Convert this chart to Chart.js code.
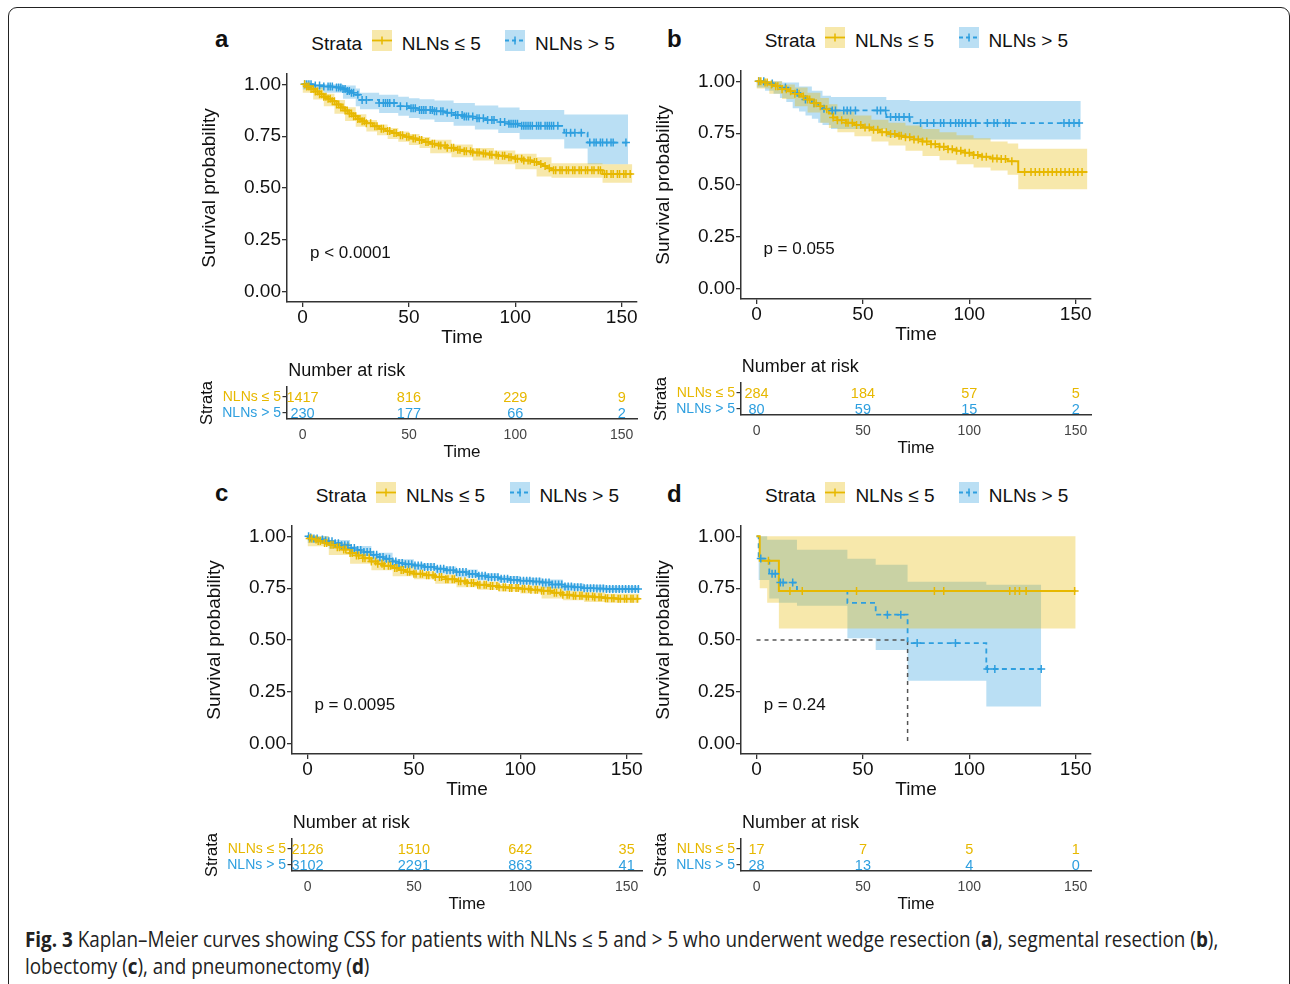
<!DOCTYPE html>
<html>
<head>
<meta charset="utf-8">
<script src="https://cdn.jsdelivr.net/npm/chart.js@4.4.1/dist/chart.umd.min.js"></script>
<style>
html, body { margin: 0; padding: 0; background: #fff; }
body { width: 1290px; height: 984px; position: relative; overflow: hidden; font-family: "Liberation Sans", Arial, sans-serif; color: #111; }
.frame { position: absolute; left: 8px; top: 7px; width: 1282px; height: 1010px; border: 1.5px solid #222; border-radius: 9px; box-sizing: border-box; }
.box { position: absolute; }
.txt { position: absolute; white-space: nowrap; line-height: 1; }
.key { position: absolute; display: block; }
.caption { position: absolute; left: 25px; top: 926px; font-family: "Open Sans", sans-serif; font-size: 21px; line-height: 27px; color: #222; white-space: nowrap; transform: scaleX(0.898); transform-origin: 0 0; }
</style>
</head>
<body>
<div class="frame"></div>
<div id="fig"></div>
<div class="caption"><b>Fig. 3</b> Kaplan–Meier curves showing CSS for patients with NLNs ≤ 5 and &gt; 5 who underwent wedge resection (<b>a</b>), segmental resection (<b>b</b>),<br>lobectomy (<b>c</b>), and pneumonectomy (<b>d</b>)</div>
<script>
// ================= DATA =================
const strata = ["NLNs ≤ 5", "NLNs > 5"];
const xTicks = [0, 50, 100, 150];
const yTicks = [0, 0.25, 0.5, 0.75, 1];
const riskTimes = [0, 50, 100, 150];

// a: wedge resection  -- [time, survival]
const aLowSurv = [[0,1],[2,0.99],[4,0.978],[6,0.965],[8,0.952],[10,0.94],[12,0.93],[14,0.918],[16,0.903],[18,0.888],[20,0.874],[22,0.86],[24,0.846],[26,0.833],[28,0.822],[30,0.812],[33,0.798],[36,0.786],[39,0.775],[42,0.765],[45,0.755],[48,0.747],[51,0.739],[54,0.731],[57,0.722],[60,0.714],[64,0.705],[68,0.694],[72,0.685],[76,0.677],[80,0.671],[84,0.666],[88,0.661],[92,0.655],[96,0.648],[100,0.641],[104,0.633],[108,0.625],[111,0.616],[113,0.606],[115,0.595],[117,0.586],[141,0.567],[155,0.567]];
const aLowUp = [[0,1],[5,0.985],[10,0.955],[15,0.925],[20,0.89],[25,0.856],[30,0.828],[35,0.806],[40,0.789],[45,0.772],[50,0.76],[55,0.746],[60,0.733],[70,0.71],[80,0.693],[90,0.681],[100,0.665],[110,0.648],[117,0.62],[141,0.615],[155,0.615]];
const aLowLo = [[0,0.96],[5,0.927],[10,0.895],[15,0.858],[20,0.823],[25,0.795],[30,0.772],[35,0.754],[40,0.736],[45,0.723],[50,0.708],[55,0.693],[60,0.668],[70,0.648],[80,0.633],[90,0.614],[100,0.59],[110,0.555],[117,0.55],[141,0.525],[155,0.525]];
const aLowCens = [1,2,3,4,5,6,7,8,9,10,11,12,13,14,15,16,17,18,19,20,21,22,23,24,25,26,27,28,29,30,32,34,35,37,38,40,41,43,44,46,47,49,50,52,53,55,56,58,59,61,62,64,65,67,68,70,71,73,74,76,77,79,80,82,83,85,86,88,89,91,92,94,95,97,98,100,101,103,104,106,107,109,110,112,114,116,118,119,121,122,124,125,127,128,130,131,133,134,136,137,139,140,142,143,145,146,148,149,151,152,154];
const aHighSurv = [[0,1],[5,0.995],[10,0.99],[15,0.985],[19,0.978],[21,0.968],[23,0.96],[25,0.95],[27,0.925],[36,0.91],[45,0.895],[50,0.885],[55,0.876],[62,0.87],[67,0.863],[71,0.852],[76,0.845],[81,0.836],[86,0.828],[92,0.818],[97,0.81],[102,0.8],[123,0.767],[134,0.719],[153,0.719]];
const aHighUp = [[0,1],[19,0.995],[25,0.98],[27,0.96],[36,0.95],[45,0.94],[50,0.933],[55,0.928],[62,0.922],[71,0.91],[81,0.898],[92,0.888],[102,0.876],[123,0.855],[153,0.855]];
const aHighLo = [[0,0.975],[10,0.96],[19,0.93],[25,0.895],[27,0.88],[36,0.862],[45,0.848],[50,0.838],[55,0.83],[62,0.818],[71,0.8],[81,0.782],[92,0.765],[102,0.735],[123,0.69],[134,0.615],[153,0.615]];
const aHighCens = [1,2,3,4,6,8,10,12,13,14,16,17,18,19,20,21,22,23,24,26,28,30,36,38,39,40,41,43,46,49,51,52,53,55,56,57,58,60,61,62,63,65,66,68,70,72,73,75,76,77,78,80,82,83,85,87,89,90,93,95,97,98,99,100,101,103,104,105,106,107,108,110,111,112,114,115,116,117,118,120,124,126,128,131,135,137,138,140,141,143,145,146,152];
const aLowRisk = [1417, 816, 229, 9];
const aHighRisk = [230, 177, 66, 2];

// b: segmental resection
const bLowSurv = [[0,1],[3,0.995],[6,0.985],[9,0.976],[12,0.962],[15,0.952],[18,0.94],[21,0.927],[24,0.912],[27,0.895],[30,0.88],[32,0.866],[34,0.845],[36,0.826],[38,0.812],[42,0.8],[46,0.79],[50,0.778],[54,0.767],[58,0.755],[62,0.746],[66,0.738],[70,0.73],[74,0.72],[78,0.71],[82,0.697],[86,0.684],[90,0.672],[94,0.665],[98,0.655],[102,0.645],[106,0.636],[110,0.628],[114,0.625],[118,0.615],[123,0.563],[155.5,0.563]];
const bLowUp = [[0,1],[6,1],[12,0.985],[18,0.97],[24,0.945],[30,0.92],[34,0.89],[38,0.855],[46,0.835],[54,0.815],[62,0.8],[70,0.787],[78,0.77],[86,0.755],[94,0.74],[102,0.725],[110,0.71],[118,0.7],[123,0.675],[155.5,0.675]];
const bLowLo = [[0,0.965],[6,0.94],[12,0.915],[18,0.88],[24,0.85],[30,0.8],[34,0.775],[38,0.755],[46,0.735],[54,0.71],[62,0.69],[70,0.665],[78,0.64],[86,0.62],[94,0.6],[102,0.585],[110,0.57],[118,0.55],[123,0.48],[155.5,0.48]];
const bLowCens = [1,2,4,5,7,9,10,12,14,16,18,20,22,24,25,27,28,30,33,36,38,40,42,43,45,47,49,51,53,55,57,59,61,63,65,67,68,70,72,74,76,78,80,82,84,86,88,90,92,94,96,98,100,102,104,106,108,111,113,115,117,120,126,129,131,133,135,137,139,141,143,145,147,149,151,153];
const bHighSurv = [[0,1],[4,0.99],[8,0.98],[11,0.97],[14,0.96],[17,0.945],[20,0.928],[23,0.912],[26,0.895],[29,0.88],[31,0.868],[35,0.86],[61,0.828],[72,0.799],[152.4,0.799]];
const bHighUp = [[0,1],[12,0.995],[20,0.975],[26,0.955],[31,0.93],[35,0.925],[61,0.91],[72,0.905],[152.4,0.905]];
const bHighLo = [[0,0.97],[4,0.955],[8,0.94],[11,0.92],[14,0.9],[17,0.87],[20,0.855],[23,0.835],[26,0.82],[29,0.8],[31,0.79],[35,0.77],[61,0.73],[72,0.72],[152.4,0.72]];
const bHighCens = [1.1,3.4,7.4,13.6,19.1,23,27,31.7,35.6,37.1,41,42.6,44.2,46.5,56.7,58.3,60.7,63,65.4,67,69.3,71.8,77.1,80.2,83.3,86.5,88,91.2,93.6,95.1,96.7,98.3,100.6,103,108.5,111.6,113.2,117.1,118.7,144.5,146.9,149.2,151.6];
const bLowRisk = [284, 184, 57, 5];
const bHighRisk = [80, 59, 15, 2];

// c: lobectomy
const cLowSurv = [[0,1],[1,0.99],[3,0.985],[5,0.978],[8,0.968],[10,0.96],[13,0.948],[16,0.937],[20,0.92],[23,0.908],[26,0.895],[30,0.879],[33,0.868],[36,0.858],[40,0.847],[43,0.838],[46,0.829],[50,0.82],[55,0.812],[60,0.804],[65,0.793],[70,0.783],[75,0.775],[80,0.767],[85,0.761],[90,0.755],[95,0.751],[100,0.747],[105,0.743],[110,0.738],[115,0.728],[120,0.718],[125,0.714],[130,0.71],[135,0.706],[140,0.702],[145,0.699],[156,0.699]];
const cLowUp = [[0,1],[10,0.968],[20,0.93],[30,0.89],[40,0.858],[50,0.832],[60,0.817],[70,0.797],[80,0.782],[90,0.77],[100,0.763],[110,0.755],[120,0.737],[130,0.73],[140,0.723],[156,0.723]];
const cLowLo = [[0,0.952],[10,0.91],[20,0.868],[30,0.836],[40,0.808],[50,0.793],[60,0.771],[70,0.755],[80,0.743],[90,0.734],[100,0.724],[110,0.7],[120,0.692],[130,0.683],[140,0.68],[156,0.68]];
const cLowCens = [1,2,4,5,6,8,9,11,12,14,15,17,18,20,21,23,24,26,27,29,30,32,33,35,36,38,39,41,42,44,45,47,48,50,51,53,54,56,57,59,60,62,63,65,66,68,69,71,72,74,75,77,78,80,81,83,84,86,87,89,90,92,93,95,96,98,99,101,102,104,105,107,108,110,111,113,114,116,117,119,120,122,123,125,126,128,129,131,132,134,135,137,138,140,141,143,144,146,147,149,150,152,153,155];
const cHighSurv = [[0,1],[1,0.995],[3,0.99],[5,0.985],[8,0.98],[10,0.976],[13,0.967],[16,0.957],[20,0.944],[23,0.934],[26,0.924],[30,0.911],[33,0.901],[36,0.892],[40,0.879],[43,0.872],[46,0.865],[50,0.86],[55,0.852],[60,0.844],[65,0.836],[70,0.828],[75,0.819],[80,0.81],[85,0.803],[90,0.796],[95,0.79],[100,0.786],[105,0.782],[110,0.778],[115,0.768],[120,0.758],[125,0.754],[130,0.75],[135,0.748],[140,0.746],[156,0.746]];
const cHighUp = [[0,1],[10,0.983],[20,0.953],[30,0.921],[40,0.889],[50,0.87],[60,0.855],[70,0.84],[80,0.822],[90,0.809],[100,0.8],[110,0.792],[120,0.773],[130,0.766],[140,0.762],[156,0.762]];
const cHighLo = [[0,0.968],[10,0.94],[20,0.905],[30,0.875],[40,0.85],[50,0.836],[60,0.82],[70,0.802],[80,0.787],[90,0.776],[100,0.768],[110,0.75],[120,0.738],[130,0.734],[140,0.73],[156,0.73]];
const cHighCens = [0.5,1.5,3,4.5,7,8.5,10,11.5,13,14.5,16,17.5,19,20.5,22,23.5,25,26.5,28,29.5,31,32.5,34,35.5,37,38.5,40,41.5,43,44.5,46,47.5,49,50.5,52,53.5,55,56.5,58,59.5,61,62.5,64,65.5,67,68.5,70,71.5,73,74.5,76,77.5,79,80.5,82,83.5,85,86.5,88,89.5,91,92.5,94,95.5,97,98.5,100,101.5,103,104.5,106,107.5,109,110.5,112,113.5,115,116.5,118,119.5,121,122.5,124,125.5,127,128.5,130,131.5,133,134.5,136,137.5,139,140.5,142,143.5,145,146.5,148,149.5,151,152.5,154,155.5];
const cLowRisk = [2126, 1510, 642, 35];
const cHighRisk = [3102, 2291, 863, 41];

// d: pneumonectomy
const dLowSurv = [[0,1],[1.5,0.882],[10.5,0.737],[150,0.737]];
const dLowUp = [[0,1],[150,1]];
const dLowLo = [[0,1],[1.5,0.75],[5,0.68],[10.5,0.556],[150,0.556]];
const dLowCens = [5.6,15.7,21.5,47,83.6,88,119,121.5,123.6,126.7,149.5];
const dHighSurv = [[0,1],[1,0.893],[6,0.82],[10.5,0.777],[19,0.737],[42.7,0.679],[56,0.622],[71,0.485],[108,0.36],[133.8,0.36]];
const dHighUp = [[0,1],[5,0.984],[19,0.936],[42.7,0.892],[56,0.863],[71,0.781],[108,0.767],[133.8,0.767]];
const dHighLo = [[0,1],[1,0.79],[6,0.7],[10.5,0.68],[19,0.665],[42.7,0.509],[56,0.452],[71,0.303],[108,0.179],[133.8,0.179]];
const dHighCens = [2,7.3,8.8,11.2,12.5,17,61.5,67.8,75.5,93.5,108.5,112,133.8];
const dMedian = [[0,0.5],[71,0.5],[71,0]];
const dLowRisk = [17, 7, 5, 1];
const dHighRisk = [28, 13, 4, 0];

const pValues = ["p < 0.0001", "p = 0.055", "p = 0.0095", "p = 0.24"];

// ================= STYLE / LAYOUT =================
const FONT = '"Liberation Sans", Arial, sans-serif';
const YEL = "#E7B800", BLU = "#2E9FDF";
const YEL_F = "rgba(231,184,0,0.33)", BLU_F = "rgba(46,159,223,0.33)";
const AX = "#333";
const AREA_W = 350, AREA_H = 228.2;
const X_MIN = -7.3, X_MAX = 157.2;

Chart.defaults.font.family = FONT;
Chart.defaults.color = "#111";
Chart.defaults.animation = false;

const panels = [
  { key: "a", L: 287.3, T: 73.9, letterX: 215, letterBase: 47, legendBase: 50,
    low: [aLowSurv, aLowUp, aLowLo, aLowCens, aLowRisk], high: [aHighSurv, aHighUp, aHighLo, aHighCens, aHighRisk] },
  { key: "b", L: 740.7, T: 70.6, letterX: 667, letterBase: 47, legendBase: 46.7,
    low: [bLowSurv, bLowUp, bLowLo, bLowCens, bLowRisk], high: [bHighSurv, bHighUp, bHighLo, bHighCens, bHighRisk] },
  { key: "c", L: 291.7, T: 526.3, letterX: 215, letterBase: 501, legendBase: 501.7,
    low: [cLowSurv, cLowUp, cLowLo, cLowCens, cLowRisk], high: [cHighSurv, cHighUp, cHighLo, cHighCens, cHighRisk] },
  { key: "d", L: 741, T: 526.3, letterX: 667, letterBase: 502, legendBase: 501.7,
    low: [dLowSurv, dLowUp, dLowLo, dLowCens, dLowRisk], high: [dHighSurv, dHighUp, dHighLo, dHighCens, dHighRisk],
    median: dMedian }
];

// ================= HELPERS =================
const fig = document.getElementById("fig");

function pts(arr) { return arr.map(([x, y]) => ({ x, y })); }

// survival value at time t (step function)
function survAt(curve, t) {
  let s = curve[0][1];
  for (const [x, y] of curve) if (x <= t) s = y;
  return s;
}

function addText(text, x, base, size, opts = {}) {
  const d = document.createElement("div");
  d.className = "txt";
  d.textContent = text;
  d.style.left = x + "px";
  d.style.top = (base - 0.8465 * size) + "px";
  d.style.fontSize = size + "px";
  if (opts.bold) d.style.fontWeight = "bold";
  if (opts.color) d.style.color = opts.color;
  fig.appendChild(d);
  return d;
}

function addKey(x, top, line, fill, dashed) {
  const ns = "http://www.w3.org/2000/svg";
  const svg = document.createElementNS(ns, "svg");
  svg.setAttribute("width", 20); svg.setAttribute("height", 21);
  svg.setAttribute("class", "key");
  svg.style.left = x + "px"; svg.style.top = top + "px";
  svg.innerHTML =
    `<rect width="20" height="21" fill="${fill}"/>` +
    `<line x1="0" y1="10.5" x2="20" y2="10.5" stroke="${line}" stroke-width="1.8" ${dashed ? 'stroke-dasharray="4 3"' : ""}/>` +
    `<line x1="10" y1="6.5" x2="10" y2="14.5" stroke="${line}" stroke-width="1.5"/>`;
  fig.appendChild(svg);
}

function makeCanvas(left, top, w, h) {
  const div = document.createElement("div");
  div.className = "box";
  div.style.left = left + "px"; div.style.top = top + "px";
  const cv = document.createElement("canvas");
  cv.width = Math.round(w); cv.height = Math.round(h);
  div.appendChild(cv);
  fig.appendChild(div);
  return cv;
}

function setTicks(values) {
  return (scale) => { scale.ticks = values.map(v => ({ value: v })); };
}

// ================= KM CHART =================
function kmChart(p, pval) {
  const [lSurv, lUp, lLo, lCens] = p.low;
  const [hSurv, hUp, hLo, hCens] = p.high;
  const cv = makeCanvas(p.L - 95, p.T - 12, 95 + AREA_W + 10, 12 + AREA_H + 56);

  const cross = (curve, times, color) => ({
    type: "scatter", data: times.map(t => ({ x: t, y: survAt(curve, t) })),
    pointStyle: "cross", pointRadius: 4, pointBorderWidth: 1.5,
    pointBorderColor: color, pointBackgroundColor: color, showLine: false
  });
  const step = (curve, color, width, dash) => ({
    type: "line", data: pts(curve), stepped: true, borderColor: color,
    borderWidth: width, borderDash: dash || [], pointRadius: 0, fill: false
  });
  const band = (curve, fill, target) => ({
    type: "line", data: pts(curve), stepped: true, borderWidth: 0,
    borderColor: "rgba(0,0,0,0)", pointRadius: 0,
    backgroundColor: fill, fill: target
  });

  const datasets = [
    cross(lSurv, lCens, YEL),
    cross(hSurv, hCens, BLU),
    step(lSurv, YEL, 2),
    step(hSurv, BLU, 1.8, [5, 4])
  ];
  if (p.median) {
    datasets.push({ type: "line", data: pts(p.median), borderColor: "#555",
      borderWidth: 1.5, borderDash: [4, 4], pointRadius: 0, fill: false });
  }
  datasets.push(band(lUp, YEL_F, "+1"), band(lLo, YEL_F, false),
                band(hUp, BLU_F, "+1"), band(hLo, BLU_F, false));

  new Chart(cv, {
    type: "line",
    data: { datasets },
    options: {
      responsive: false,
      events: [],
      layout: { padding: { top: 12, right: 10, left: 0, bottom: 0 } },
      plugins: {
        legend: { display: false },
        tooltip: { enabled: false },
        filler: { propagate: false, drawTime: "beforeDatasetsDraw" }
      },
      scales: {
        x: {
          type: "linear", min: X_MIN, max: X_MAX,
          afterBuildTicks: setTicks(xTicks),
          afterFit: s => { s.height = 56; },
          grid: { display: true, drawOnChartArea: false, drawTicks: true, tickLength: 5, color: AX, lineWidth: 1.3 },
          border: { display: true, color: AX, width: 1.5 },
          ticks: { font: { size: 19, lineHeight: 1 }, color: "#111", padding: 1, maxRotation: 0, autoSkip: false },
          title: { display: true, text: "Time", font: { size: 19 }, color: "#111", padding: { top: 0, bottom: 8.7 } }
        },
        y: {
          type: "linear", min: -0.05, max: 1.05,
          afterBuildTicks: setTicks(yTicks),
          afterFit: s => { s.width = 95; },
          grid: { display: true, drawOnChartArea: false, drawTicks: true, tickLength: 5, color: AX, lineWidth: 1.3 },
          border: { display: true, color: AX, width: 1.5 },
          ticks: { font: { size: 19, lineHeight: 1 }, color: "#111", padding: 1, callback: v => v.toFixed(2) },
          title: { display: true, text: "Survival probability", font: { size: 19 }, color: "#111", padding: { top: 6.3, bottom: 0 } }
        }
      }
    }
  });

  // legend, letter, p value
  addText(p.key, p.letterX, p.letterBase, 24, { bold: true });
  addText("Strata", p.L + 24, p.legendBase, 19);
  addKey(p.L + 84.4, p.legendBase - 20, YEL, YEL_F, false);
  addText(strata[0], p.L + 114.4, p.legendBase, 19);
  addKey(p.L + 218, p.legendBase - 20, BLU, BLU_F, true);
  addText(strata[1], p.L + 247.7, p.legendBase, 19);
  addText(pval, p.L + 22.7, p.T + 184, 17);
}

// ================= RISK TABLE =================
const riskText = {
  id: "riskText",
  afterDatasetsDraw(chart) {
    const { ctx, scales: { x, y } } = chart;
    ctx.save();
    ctx.font = "14.5px " + FONT;
    ctx.textAlign = "center";
    ctx.textBaseline = "middle";
    chart.data.datasets.forEach(ds => {
      ctx.fillStyle = ds.textColor;
      ds.data.forEach(d => ctx.fillText(String(d.n), x.getPixelForValue(d.x), y.getPixelForValue(d.y) + 1));
    });
    ctx.restore();
  }
};

function riskChart(p) {
  const lRisk = p.low[4], hRisk = p.high[4];
  const top = p.T + 312.8, h = 31.8;
  const cv = makeCanvas(p.L - 95, top - 12, 95 + AREA_W + 10, 12 + h + 45);
  new Chart(cv, {
    type: "scatter",
    data: {
      datasets: [
        { data: riskTimes.map((t, i) => ({ x: t, y: 2, n: lRisk[i] })), textColor: YEL, pointRadius: 0 },
        { data: riskTimes.map((t, i) => ({ x: t, y: 1, n: hRisk[i] })), textColor: BLU, pointRadius: 0 }
      ]
    },
    options: {
      responsive: false,
      events: [],
      layout: { padding: { top: 12, right: 10, left: 0, bottom: 0 } },
      plugins: { legend: { display: false }, tooltip: { enabled: false } },
      scales: {
        x: {
          type: "linear", min: X_MIN, max: X_MAX,
          afterBuildTicks: setTicks(xTicks),
          afterFit: s => { s.height = 45; },
          grid: { display: false, drawTicks: false },
          border: { display: true, color: AX, width: 1.5 },
          ticks: { font: { size: 14, lineHeight: 1 }, color: "#444", padding: 9.5, maxRotation: 0, autoSkip: false },
          title: { display: true, text: "Time", font: { size: 17 }, color: "#111", padding: { top: 0, bottom: 1.6 } }
        },
        y: {
          type: "linear", min: 0.6, max: 2.64,
          afterBuildTicks: setTicks([1, 2]),
          afterFit: s => { s.width = 95; },
          grid: { display: true, drawOnChartArea: false, drawTicks: true, tickLength: 4.5, color: AX, lineWidth: 1.2 },
          border: { display: true, color: AX, width: 1.5 },
          ticks: {
            font: { size: 14, lineHeight: 1 }, padding: 1.5,
            color: c => (c.tick && c.tick.value === 2 ? YEL : BLU),
            callback: v => (v === 2 ? strata[0] : strata[1])
          },
          title: { display: true, text: "Strata", font: { size: 16.5 }, color: "#111", padding: { top: 5.8, bottom: 0 } }
        }
      }
    },
    plugins: [riskText]
  });
  addText("Number at risk", p.L + 1, p.T + 302, 18);
}

// ================= START =================
panels.forEach((p, i) => {
  kmChart(p, pValues[i]);
  riskChart(p);
});
</script>
</body>
</html>
